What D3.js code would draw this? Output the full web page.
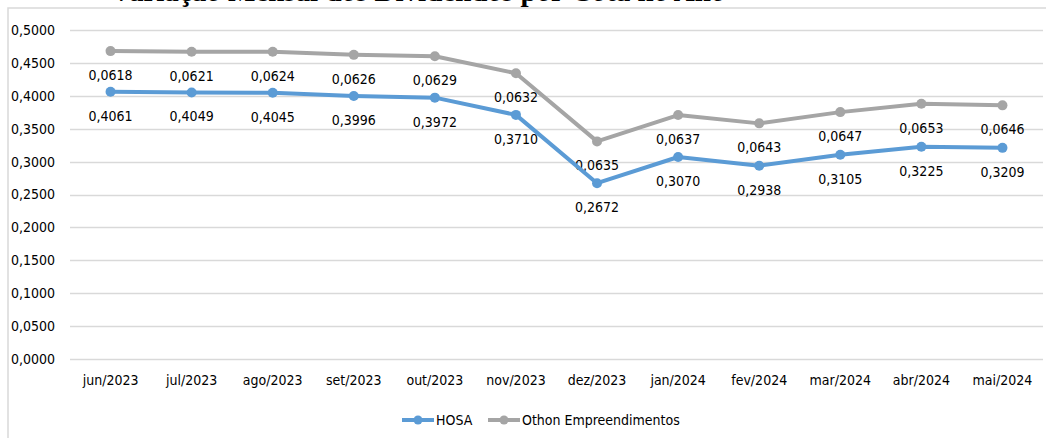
<!DOCTYPE html>
<html>
<head>
<meta charset="utf-8">
<script src="https://cdn.jsdelivr.net/npm/d3@7"></script>
<style>
  body { margin: 0; background: #fff; }
  svg { display: block; }
  text { font-family: "Liberation Sans Narrow", "Arial Narrow", "DejaVu Sans Condensed", sans-serif; fill: #000; }
</style>
</head>
<body>
<div id="chart"></div>
<script>
// dados
const months = ['jun/2023', 'jul/2023', 'ago/2023', 'set/2023', 'out/2023', 'nov/2023',
                'dez/2023', 'jan/2024', 'fev/2024', 'mar/2024', 'abr/2024', 'mai/2024'];
const hosa = [0.4061, 0.4049, 0.4045, 0.3996, 0.3972, 0.3710,
              0.2672, 0.3070, 0.2938, 0.3105, 0.3225, 0.3209];
const othon = [0.0618, 0.0621, 0.0624, 0.0626, 0.0629, 0.0632,
               0.0635, 0.0637, 0.0643, 0.0647, 0.0653, 0.0646];
const yTicks = [0, 0.05, 0.1, 0.15, 0.2, 0.25, 0.3, 0.35, 0.4, 0.45, 0.5];
const seriesNames = ['HOSA', 'Othon Empreendimentos'];
const titleText = 'Variação Mensal dos Dividendos por Cota no Ano';

const width = 1046, height = 438;
const margin = { top: 30, right: 3, bottom: 79, left: 70 };
const colors = ['#5B9BD5', '#A5A5A5'];
const fmt = v => v.toFixed(4).replace('.', ',');

const svg = d3.select('#chart').append('svg')
  .attr('width', width)
  .attr('height', height);

// moldura do gráfico
svg.append('rect')
  .attr('x', 8).attr('y', 8)
  .attr('width', width + 20).attr('height', height + 20)
  .attr('fill', '#fff')
  .attr('stroke', '#D9D9D9')
  .attr('stroke-width', 1.5);

// título (cortado no topo, como na imagem original)
svg.append('text')
  .attr('x', 418).attr('y', 1)
  .attr('text-anchor', 'middle')
  .style('font-family', '"Liberation Serif", serif')
  .style('font-size', '29px')
  .style('font-weight', 'bold')
  .text(titleText);

const x = d3.scaleBand()
  .domain(months)
  .range([margin.left, width - margin.right]);

const y = d3.scaleLinear()
  .domain([0, 0.5])
  .range([height - margin.bottom, margin.top]);

// grade
svg.append('g')
  .selectAll('line')
  .data(yTicks)
  .join('line')
    .attr('x1', margin.left)
    .attr('x2', width - margin.right)
    .attr('y1', d => Math.round(y(d)) + 0.5)
    .attr('y2', d => Math.round(y(d)) + 0.5)
    .attr('stroke', '#D9D9D9')
    .attr('stroke-width', 1.5);

// eixo y
const yAxis = svg.append('g')
  .attr('transform', `translate(${margin.left - 15},0)`)
  .call(d3.axisLeft(y).tickValues(yTicks).tickFormat(fmt).tickSize(0).tickPadding(0));
yAxis.select('.domain').remove();
yAxis.selectAll('text').style('font-size', '14px').style('font-family', null);

// eixo x
const xAxis = svg.append('g')
  .attr('transform', `translate(0,${height - margin.bottom})`)
  .call(d3.axisBottom(x).tickSize(0).tickPadding(16));
xAxis.select('.domain').remove();
xAxis.selectAll('text').style('font-size', '14px').style('font-family', null);

// séries empilhadas
const stacked = [
  months.map((m, i) => ({ m, v: hosa[i], top: hosa[i] })),
  months.map((m, i) => ({ m, v: othon[i], top: hosa[i] + othon[i] }))
];

const line = d3.line()
  .x(d => x(d.m) + x.bandwidth() / 2)
  .y(d => y(d.top));

[1, 0].forEach(s => {
  const g = svg.append('g');
  g.append('path')
    .datum(stacked[s])
    .attr('d', line)
    .attr('fill', 'none')
    .attr('stroke', colors[s])
    .attr('stroke-width', 4)
    .attr('stroke-linejoin', 'round');
  g.selectAll('circle')
    .data(stacked[s])
    .join('circle')
      .attr('cx', d => x(d.m) + x.bandwidth() / 2)
      .attr('cy', d => y(d.top))
      .attr('r', 5)
      .attr('fill', colors[s]);
  g.selectAll('text.lbl')
    .data(stacked[s])
    .join('text')
      .attr('class', 'lbl')
      .attr('x', d => x(d.m) + x.bandwidth() / 2)
      .attr('y', d => y(d.top) + 24)
      .attr('dy', '0.35em')
      .attr('text-anchor', 'middle')
      .style('font-size', '14px')
      .text(d => fmt(d.v));
});

// legenda
const legend = svg.append('g').attr('transform', `translate(402,${height - 18})`);
const legendX = [0, 86];
seriesNames.forEach((name, i) => {
  const lg = legend.append('g').attr('transform', `translate(${legendX[i]},0)`);
  lg.append('line')
    .attr('x1', 0).attr('x2', 32)
    .attr('stroke', colors[i])
    .attr('stroke-width', 4);
  lg.append('circle')
    .attr('cx', 16).attr('r', 4.5)
    .attr('fill', colors[i]);
  lg.append('text')
    .attr('x', 34).attr('dy', '0.35em')
    .style('font-size', '14px')
    .text(name);
});
</script>
</body>
</html>
